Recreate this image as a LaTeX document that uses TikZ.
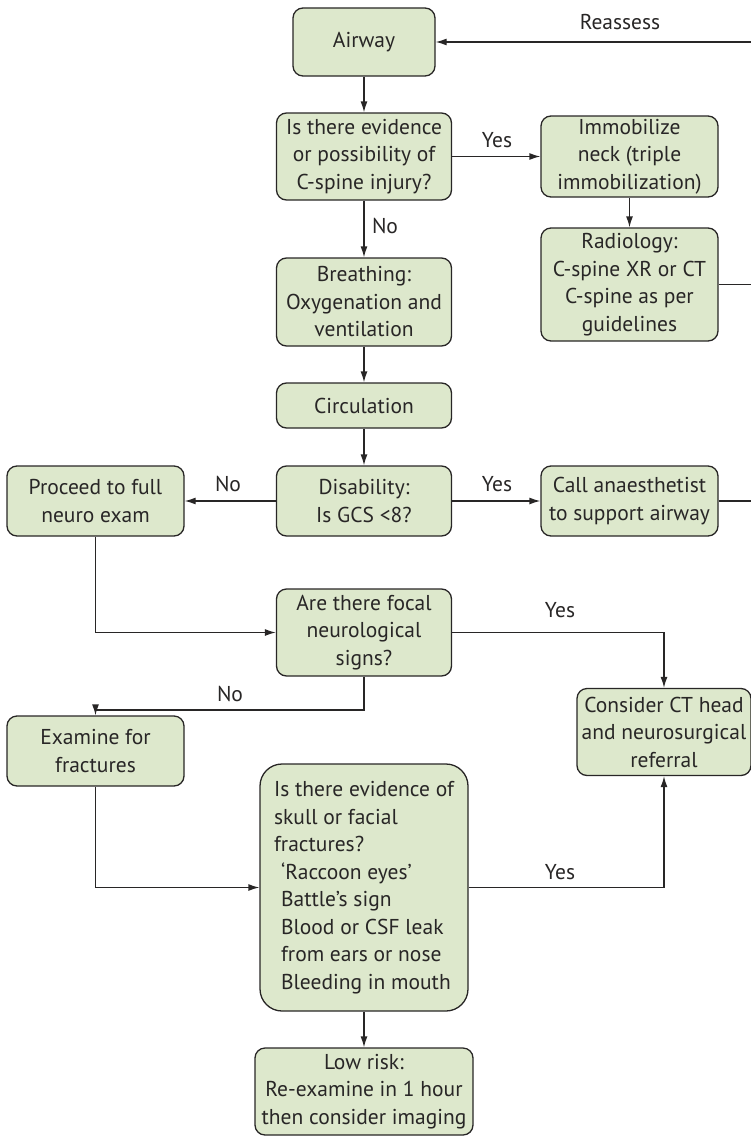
\documentclass[tikz,border=0pt]{standalone}
\usepackage{fontspec}
\setmainfont{PT Sans}
\usetikzlibrary{arrows.meta}
\definecolor{boxfill}{RGB}{221,232,204}
\definecolor{inkcol}{RGB}{40,38,38}
\begin{document}
\begin{tikzpicture}[x=1pt,y=-1pt,
  txt/.style={font=\fontsize{21.5}{27.5}\selectfont, text=inkcol},
  box/.style={txt, draw=inkcol, fill=boxfill, line width=1.3pt,
    rounded corners=10pt, inner sep=0pt, align=center},
  link/.style={draw=inkcol, line width=1.3pt},
  arr/.style={link, -{Latex[length=11pt,width=7pt]}},
  lab/.style={txt}
]
\useasboundingbox (0,0) rectangle (751,1140);

% main column
\node[box, minimum width=142pt, minimum height=68pt] (airway) at (364,42) {Airway};
\node[box, minimum width=175pt, minimum height=87pt] (cspine) at (364,156.5)
  {Is there evidence\\or possibility of\\C-spine injury?};
\node[box, minimum width=175pt, minimum height=88pt] (breath) at (364,302)
  {Breathing:\\Oxygenation and\\ventilation};
\node[box, minimum width=175pt, minimum height=45pt] (circ) at (364,405.5) {Circulation};
\node[box, minimum width=175pt, minimum height=70pt] (disab) at (364,501)
  {Disability:\\Is GCS <8?};
\node[box, minimum width=175pt, minimum height=87pt] (focal) at (364,632.5)
  {Are there focal\\neurological\\signs?};
\node[box, rounded corners=22pt, minimum width=208pt, minimum height=247pt, align=left] (skull) at (364,887.5)
  {Is there evidence of\\skull or facial\\fractures?\\
   \hspace*{7pt}‘Raccoon eyes’\\
   \hspace*{7pt}Battle’s sign\\
   \hspace*{7pt}Blood or CSF leak\\
   \hspace*{7pt}from ears or nose\\
   \hspace*{7pt}Bleeding in mouth};
\node[box, minimum width=218pt, minimum height=87pt] (low) at (364,1091.5)
  {Low risk:\\Re-examine in 1 hour\\then consider imaging};

% right column
\node[box, minimum width=177pt, minimum height=81pt] (immob) at (629.5,156.5)
  {Immobilize\\neck (triple\\immobilization)};
\node[box, minimum width=177pt, minimum height=113pt] (radio) at (629.5,284.5)
  {Radiology:\\C-spine XR or CT\\C-spine as per\\guidelines};
\node[box, minimum width=177pt, minimum height=70pt] (call) at (629.5,501)
  {Call anaesthetist\\to support airway};
\node[box, minimum width=174pt, minimum height=87pt] (ct) at (664,732)
  {Consider CT head\\and neurosurgical\\referral};

% left column
\node[box, minimum width=177pt, minimum height=70pt] (proceed) at (95.5,501)
  {Proceed to full\\neuro exam};
\node[box, minimum width=177pt, minimum height=70pt] (exam) at (95.5,751)
  {Examine for\\fractures};

% free ends and bends
\coordinate (rim) at (751,0);
\coordinate (reenter) at (751,42);
\coordinate (split) at (364,710);

% connectors
\draw[arr] (reenter) -- (airway.east);
\draw[arr] (airway) -- (cspine);
\draw[arr] (cspine) -- (immob);
\draw[arr] (immob) -- (radio);
\draw[arr] (cspine) -- (breath);
\draw[arr] (breath) -- (circ);
\draw[arr] (circ) -- (disab);
\draw[arr] (disab) -- (proceed);
\draw[arr] (disab) -- (call);
\draw[link] (radio.east) -- (radio.east -| rim);
\draw[link] (call.east) -- (call.east -| rim);
\draw[arr] (proceed.south) |- (focal.west);
\draw[arr] (focal.east) -| (ct.north);
\draw[arr] (focal.south) -- (split) -| (exam.north);
\draw[arr] (exam.south) |- (skull.west);
\draw[arr] (skull.east) -| (ct.south);
\draw[arr] (skull) -- (low);

% labels
\node[lab] (lreassess) at (620,22) {Reassess};
\node[lab] (lyes1) at (497,140) {Yes};
\node[lab] (lno1) at (385,226) {No};
\node[lab] (lno2) at (228,484) {No};
\node[lab] (lyes2) at (497,484) {Yes};
\node[lab] (lyes3) at (560,610) {Yes};
\node[lab] (lno3) at (230,694) {No};
\node[lab] (lyes4) at (560,872) {Yes};
\end{tikzpicture}
\end{document}
